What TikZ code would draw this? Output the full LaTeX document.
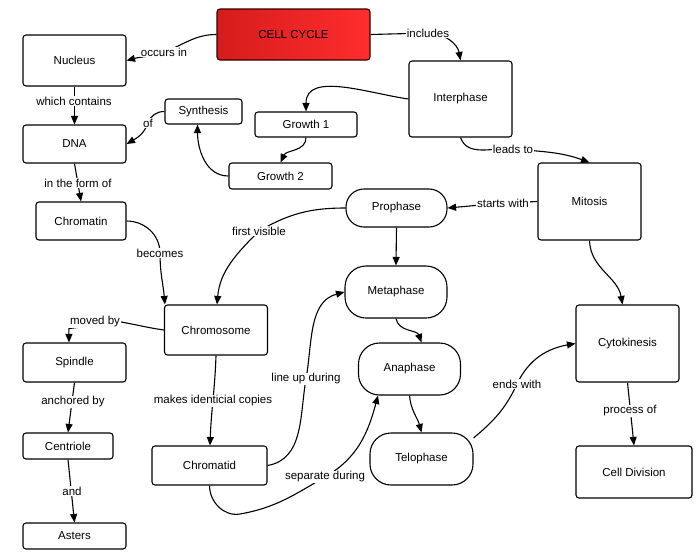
\documentclass[tikz,border=0pt]{standalone}
\usepackage{fontspec}
\setmainfont{Liberation Sans}
\usetikzlibrary{arrows.meta,backgrounds}
\newcommand\figfont{\fontsize{11.5}{13}\selectfont}
\definecolor{ccleft}{RGB}{214,28,28}
\definecolor{ccright}{RGB}{255,45,45}
\begin{document}
\begin{tikzpicture}[x=1pt,y=1pt,
  box/.style={draw, line width=1.1pt, fill=white, rounded corners=3pt, font=\figfont, align=center, inner sep=0pt},
  sz/.style 2 args={minimum width=#1pt, minimum height=#2pt},
  pill/.style={box, rounded corners=#1},
  lbl/.style={fill=white, inner sep=1pt, font=\figfont},
  arr/.style={line width=1.1pt, -{Triangle[length=8.5pt,width=7pt]}},
  ln/.style={line width=1.1pt}]
\useasboundingbox (0,0) rectangle (700,-557);
% nodes
\node[box, sz={153}{51}, left color=ccleft, right color=ccright, draw=black!80!red] (cc) at (293.5,-34.5) {CELL CYCLE};
\node[box, sz={103}{51}] (nuc) at (74.5,-60.5) {Nucleus};
\node[box, sz={103}{38}] (dna) at (74.5,-144) {DNA};
\node[box, sz={77}{25}] (syn) at (203.5,-111.5) {Synthesis};
\node[box, sz={102}{25}] (g1) at (306,-124.5) {Growth 1};
\node[box, sz={103}{26}] (g2) at (280.5,-176) {Growth 2};
\node[box, sz={103}{76}] (inter) at (460.5,-99) {Interphase};
\node[box, sz={90}{38}] (chromatin) at (81,-221) {Chromatin};
\node[pill=18pt, sz={101}{38}] (pro) at (396.5,-208) {Prophase};
\node[box, sz={103}{77}] (mit) at (589.5,-201.5) {Mitosis};
\node[box, sz={103}{50}] (chrom) at (216,-330) {Chromosome};
\node[box, sz={103}{39}] (spin) at (74.5,-362.5) {Spindle};
\node[pill=21pt, sz={102}{52}] (meta) at (396,-292) {Metaphase};
\node[pill=21pt, sz={102}{52}] (ana) at (409.5,-369) {Anaphase};
\node[pill=21pt, sz={103}{52}] (telo) at (421.5,-459) {Telophase};
\node[box, sz={103}{77}] (cyto) at (627.5,-343.5) {Cytokinesis};
\node[box, sz={116}{52}] (celldiv) at (634,-472) {Cell Division};
\node[box, sz={90}{26}] (centriole) at (68,-446) {Centriole};
\node[box, sz={115}{39}] (chromatid) at (209.5,-465.5) {Chromatid};
\node[box, sz={103}{26}] (asters) at (74.5,-536) {Asters};
% edge labels
\node[lbl] (occ) at (164,-52) {occurs in};
\node[lbl] (inc) at (428,-33) {includes};
\node[lbl] (whc) at (74,-101) {which contains};
\node[lbl] (of) at (148,-123) {of};
\node[lbl] (itf) at (78,-183) {in the form of};
\node[lbl] (bec) at (160,-253) {becomes};
\node[lbl] (fv) at (259,-231) {first visible};
\node[lbl] (lt) at (513,-149) {leads to};
\node[lbl] (sw) at (503,-203) {starts with};
\node[lbl] (mb) at (95,-322) {moved by};
\node[lbl] (anc) at (73,-402) {anchored by};
\node[lbl] (and) at (72,-491) {and};
\node[lbl] (mic) at (213,-401) {makes identicial copies};
\node[lbl] (lud) at (306,-379) {line up during};
\node[lbl] (sd) at (325,-477) {separate during};
\node[lbl] (ew) at (517,-384) {ends with};
\node[lbl] (po) at (630,-411) {process of};
% connectors
\begin{pgfonlayer}{background}
\draw[arr] (cc.west) to[out=180,in=20] (occ.center) to[out=200,in=15] (nuc.east);
\draw[arr] (cc.east) -- (inc.center) to[out=0,in=100] (inter.north);
\draw[arr] (inter.west) to[out=172,in=90] (g1.north);
\draw[arr] (g1.south) to[out=-90,in=65] (g2.north);
\draw[arr] (g2.west) to[out=180,in=-90] ([xshift=-6pt]syn.south);
\draw[arr] (syn.west) to[out=180,in=70] (of.center) to[out=250,in=30] (dna.east);
\draw[arr] (nuc.south) -- (dna.north);
\draw[arr] (dna.south) -- (chromatin.north);
\draw[arr] (chromatin.east) to[out=0,in=90] (bec.center) to[out=-90,in=95] ([xshift=1pt]chrom.north west);
\draw[arr] (pro.west) to[out=180,in=30] (fv.center) to[out=225,in=85] ([xshift=1pt]chrom.north);
\draw[arr] (inter.south) to[out=-70,in=175] (lt.center) to[out=-5,in=160] (mit.north);
\draw[arr] (mit.west) -- (sw.center) -- (pro.east);
\draw[arr] (pro.south) -- (meta.north);
\draw[arr] (meta.south) to[out=-80,in=110] ([xshift=12pt]ana.north);
\draw[arr] (ana.south) to[out=-85,in=105] (telo.north);
\draw[arr] (telo.22) to[out=40,in=-115] (ew.center) to[out=65,in=190] (cyto.west);
\draw[arr] (mit.south) to[out=-88,in=100] ([xshift=-5pt]cyto.north);
\draw[arr] (cyto.south) -- (celldiv.north);
\draw[arr] (chrom.west) to[out=172,in=-10] (mb.east) -- (mb.south west) -- ([xshift=-5.5pt]spin.north);
\draw[arr] (spin.south) -- (centriole.north);
\draw[arr] (centriole.south) -- (asters.north);
\draw[arr] (chrom.south) to[out=-92,in=88] ([xshift=0.5pt]chromatid.north);
\draw[arr] (chromatid.east) to[out=10,in=-100] (lud.center) to[out=80,in=195] (meta.west);
\draw[arr] (chromatid.south) to[out=-90,in=190] ([xshift=-85pt,yshift=-37pt]sd.center) to[out=10,in=210] (sd.center) to[out=30,in=-105] ([xshift=-31.5pt]ana.south);
\end{pgfonlayer}
\end{tikzpicture}
\end{document}
